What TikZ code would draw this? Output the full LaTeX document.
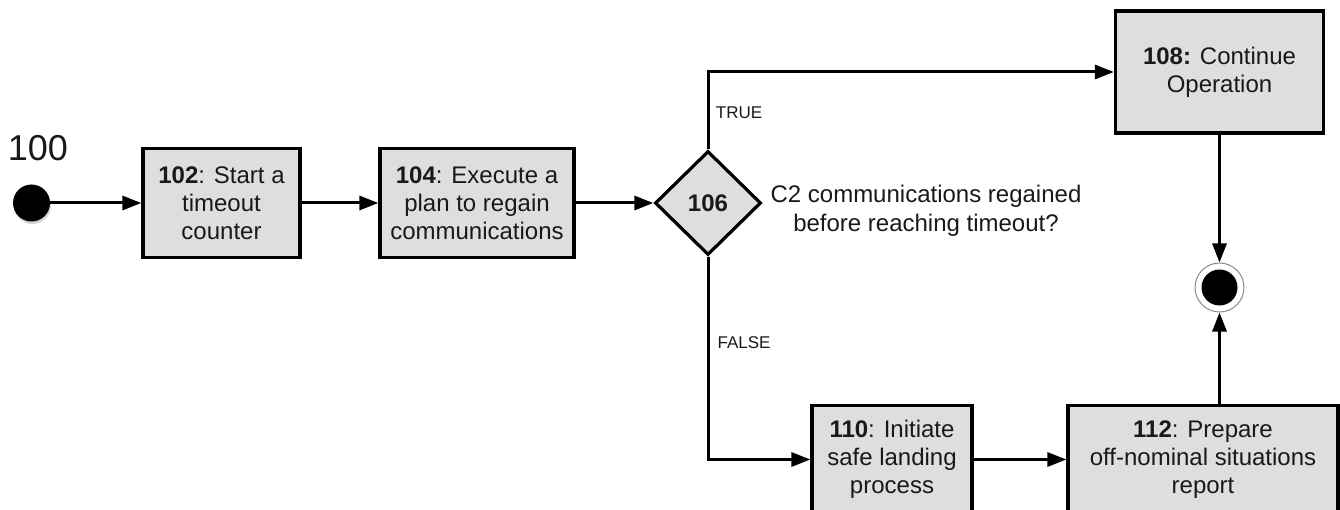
\documentclass[tikz,border=0pt]{standalone}
\usepackage{fontspec}
\setmainfont{Liberation Sans}
\usetikzlibrary{arrows.meta,shapes.geometric,shadows}
\definecolor{boxgray}{RGB}{221,222,224}
\definecolor{textc}{RGB}{25,25,25}
\begin{document}
\begin{tikzpicture}[x=1pt,y=-1pt,
  procbox/.style={draw=black, line width=3.2pt, fill=boxgray, align=center,
    font=\fontsize{24}{28}\selectfont, text=textc, inner sep=0pt},
  flow/.style={line width=3pt, -{Triangle[length=19pt,width=14pt]}},
  lbl/.style={font=\fontsize{17}{20}\selectfont, text=textc, inner sep=0pt}]
\useasboundingbox (0,0) rectangle (1340,510);

\node[circle, fill=black, minimum size=37pt, inner sep=0pt,
  drop shadow={shadow xshift=1pt, shadow yshift=-2.5pt, opacity=0.35}] (start) at (31.5,203) {};
\node[font=\fontsize{36}{40}\selectfont, text=textc, inner sep=0pt] (n100) at (38,148) {100};

\node[procbox, minimum width=157pt, minimum height=109pt] (b102) at (221.5,203)
  {\textbf{102}: Start a\\timeout\\counter};
\node[procbox, minimum width=194pt, minimum height=109pt] (b104) at (477,203)
  {\textbf{104}: Execute a\\plan to regain\\communications};
\node[diamond, draw=black, line width=3.2pt, fill=boxgray, minimum width=106pt,
  minimum height=104pt, inner sep=0pt, text=textc,
  font=\fontsize{24}{28}\selectfont\bfseries] (d106) at (708,203) {106};
\node[align=center, font=\fontsize{24}{29}\selectfont, text=textc, inner sep=0pt] (q) at (926,211)
  {C2 communications regained\\before reaching timeout?};
\node[procbox, minimum width=208pt, minimum height=122pt] (b108) at (1219.5,72)
  {\textbf{108:} Continue\\Operation};
\node[procbox, minimum width=160pt, minimum height=108pt] (b110) at (892,459.5)
  {\textbf{110}: Initiate\\safe landing\\process};
\node[procbox, minimum width=270pt, minimum height=108pt] (b112) at (1203,459.5)
  {\textbf{112}: Prepare\\off-nominal situations\\report};
\node[circle, draw=black!45, line width=1pt, fill=white, minimum size=49pt, inner sep=0pt] (end) at (1219.5,287.5) {};
\fill[black] (end.center) circle (18pt);

\node[lbl] (ltrue) at (739,113) {TRUE};
\node[lbl] (lfalse) at (744,343) {FALSE};

\draw[flow] (start) -- (b102);
\draw[flow] (b102) -- (b104);
\draw[flow] (b104) -- (d106.west);
\draw[flow] (d106.north) |- (b108.west);
\draw[flow] (d106.south) |- (b110.west);
\draw[flow] (b110) -- (b112);
\draw[flow] (b108.south -| end) -- (end.north);
\draw[flow] (b112.north -| end) -- (end.south);
\end{tikzpicture}
\end{document}
